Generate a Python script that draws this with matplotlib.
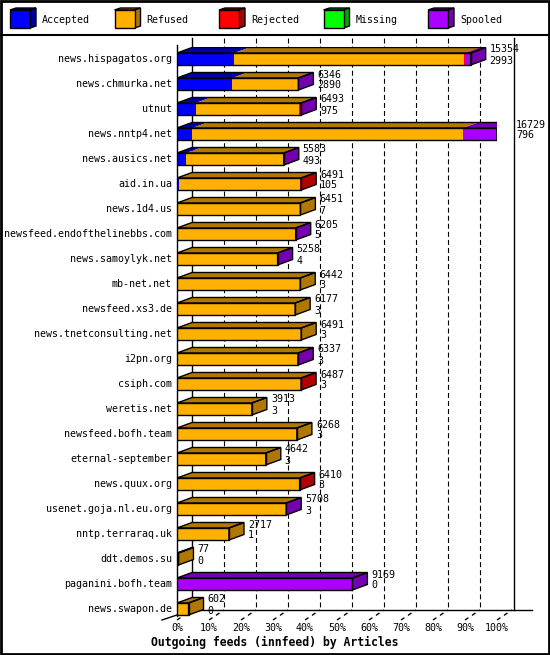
import matplotlib
matplotlib.use("Agg")
import matplotlib.pyplot as plt
from matplotlib.patches import Polygon, Rectangle
from matplotlib.lines import Line2D

plt.rcParams['font.family'] = ['DejaVu Sans Mono']
plt.rcParams['lines.scale_dashes'] = False

# innfeed outgoing feeds, articles per peer
hosts = ["news.hispagatos.org", "news.chmurka.net", "utnut", "news.nntp4.net",
         "news.ausics.net", "aid.in.ua", "news.1d4.us", "newsfeed.endofthelinebbs.com",
         "news.samoylyk.net", "mb-net.net", "newsfeed.xs3.de", "news.tnetconsulting.net",
         "i2pn.org", "csiph.com", "weretis.net", "newsfeed.bofh.team",
         "eternal-september", "news.quux.org", "usenet.goja.nl.eu.org", "nntp.terraraq.uk",
         "ddt.demos.su", "paganini.bofh.team", "news.swapon.de"]
offered = [15354, 6346, 6493, 16729, 5583, 6491, 6451, 6205, 5258, 6442, 6177, 6491,
           6337, 6487, 3913, 6268, 4642, 6410, 5708, 2717, 77, 9169, 602]
accepted = [2993, 2890, 975, 796, 493, 105, 7, 5, 4, 3, 3, 3,
            3, 3, 3, 3, 3, 3, 3, 1, 0, 0, 0]
refused = [11991, 3431, 5418, 14153, 5040, 6306, 6444, 6160, 5224, 6439, 6174, 6488,
           6294, 6464, 3910, 6265, 4639, 6387, 5680, 2716, 77, 0, 602]
rejected = [80, 0, 70, 0, 0, 80, 0, 0, 0, 0, 0, 0,
            0, 20, 0, 0, 0, 20, 0, 0, 0, 0, 0]
missing = [0] * 23
spooled = [290, 25, 30, 1780, 50, 0, 0, 40, 30, 0, 0, 0,
           40, 0, 0, 0, 0, 0, 25, 0, 0, 9169, 0]

series = ["Accepted", "Refused", "Rejected", "Missing", "Spooled"]
front_col = ["#0000ff", "#ffb000", "#ff0000", "#00ff00", "#aa00ff"]
dark_col = ["#0000a8", "#b07800", "#b00000", "#00a800", "#7400b0"]
values = [accepted, refused, rejected, missing, spooled]

W, H = 550, 655
fig = plt.figure(figsize=(W / 100, H / 100), dpi=100)

# main axes = front plane of the 3d chart
ax_l, ax_r, ax_t, ax_b = 177, 497, 46.5, 621.5
ax = fig.add_axes([ax_l / W, 1 - ax_b / H, (ax_r - ax_l) / W, (ax_b - ax_t) / H])
n = len(hosts)
xmax = max(offered)
ax.set_xlim(0, xmax)
ax.set_ylim(n - 0.5, -0.5)
ax.set_axis_off()

px_row = (ax_b - ax_t) / n
DX = 15 / (ax_r - ax_l) * xmax
DY = 5.5 / px_row
hb = 0.24

def row_at(py):
    return -0.5 + (py - ax_t) / px_row

top_y = row_at(38)
floor_back = row_at(610)
floor_front = row_at(620)

# back wall grid
for k in range(1, 10):
    x = xmax * k / 10 + DX
    ax.plot([x, x], [top_y, floor_back], color="black", lw=0.8,
            ls=(0, (3.6, 2.2)), clip_on=False, zorder=1)
ax.plot([DX, DX], [top_y, floor_back], color="black", lw=1, clip_on=False, zorder=1)
ax.plot([xmax + DX * 1.1, xmax + DX * 1.1], [top_y, floor_back], color="black", lw=1,
        clip_on=False, zorder=1)
ax.plot([0, 0], [row_at(45), row_at(616)], color="black", lw=1, clip_on=False, zorder=1)

# floor
ax.plot([-DX, DX], [floor_front, floor_back], color="black", lw=1, clip_on=False, zorder=1)
ax.plot([DX, xmax + DX * 2.3], [floor_back, floor_back], color="black", lw=1,
        clip_on=False, zorder=1)
for k in range(11):
    x = xmax * k / 10
    ax.plot([x, x + DX], [floor_front, floor_back], color="black", lw=1,
            ls=(0, (3, 3)), clip_on=False, zorder=1)
    ax.text(x, row_at(628), f"{k * 10}%", ha="center", va="center", fontsize=7.2)

# bars
for r in range(n):
    left = 0
    last = None
    for s in range(len(series)):
        w = values[s][r]
        if w <= 0:
            continue
        ax.barh(r, w, left=left, height=2 * hb, color=front_col[s], edgecolor="none",
                zorder=3)
        ax.add_patch(Polygon([(left, r - hb), (left + DX, r - hb - DY),
                              (left + w + DX, r - hb - DY), (left + w, r - hb)],
                             closed=True, facecolor=dark_col[s], edgecolor="none",
                             zorder=3))
        left += w
        last = s
    tot = left
    ax.add_patch(Polygon([(tot, r - hb), (tot + DX, r - hb - DY),
                          (tot + DX, r + hb - DY), (tot, r + hb)],
                         closed=True, facecolor=dark_col[last], edgecolor="black",
                         lw=1, zorder=4))
    ax.add_patch(Rectangle((0, r - hb), tot, 2 * hb, fill=False, edgecolor="black",
                           lw=1, zorder=4))
    ax.add_patch(Polygon([(0, r - hb), (DX, r - hb - DY), (tot + DX, r - hb - DY),
                          (tot, r - hb)], closed=True, fill=False, edgecolor="black",
                         lw=1, zorder=4))
    ax.annotate(hosts[r], xy=(0, r), xytext=(-5, 0), textcoords="offset pixels",
                ha="right", va="center", fontsize=7.2, annotation_clip=False)
    ax.annotate(str(offered[r]), xy=(tot + DX, r), xytext=(4, 9.5),
                textcoords="offset pixels", ha="left", va="center", fontsize=7.2,
                annotation_clip=False, zorder=5)
    ax.annotate(str(accepted[r]), xy=(tot + DX, r), xytext=(4, -1.5),
                textcoords="offset pixels", ha="left", va="center", fontsize=7.2,
                annotation_clip=False, zorder=5)

fig.text(0.5, 1 - 642 / H, "Outgoing feeds (innfeed) by Articles", ha="center",
         va="center", fontsize=8.3, fontweight="bold")

# legend strip
lg = fig.add_axes([0, 1 - 35 / H, 1, 35 / H])
lg.set_xlim(0, W)
lg.set_ylim(35, 0)
lg.set_axis_off()
for i, name in enumerate(series):
    x0 = 10 + i * 104.5
    lg.add_patch(Polygon([(x0, 10), (x0 + 6, 8), (x0 + 26, 8), (x0 + 20, 10)],
                         closed=True, facecolor=dark_col[i], edgecolor="black", lw=1))
    lg.add_patch(Polygon([(x0 + 20, 10), (x0 + 26, 8), (x0 + 26, 26), (x0 + 20, 28)],
                         closed=True, facecolor=dark_col[i], edgecolor="black", lw=1))
    lg.add_patch(Rectangle((x0, 10), 20, 18, facecolor=front_col[i], edgecolor="black",
                           lw=1))
    lg.text(x0 + 32, 20, name, ha="left", va="center", fontsize=7.2)

fig.add_artist(Line2D([0, 1], [1 - 35 / H, 1 - 35 / H], color="black", lw=1.5))
fig.add_artist(Rectangle((0.001, 0.001), 0.997, 0.997, transform=fig.transFigure,
                         fill=False, edgecolor="black", lw=2))

fig.savefig("out.png", dpi=100)
